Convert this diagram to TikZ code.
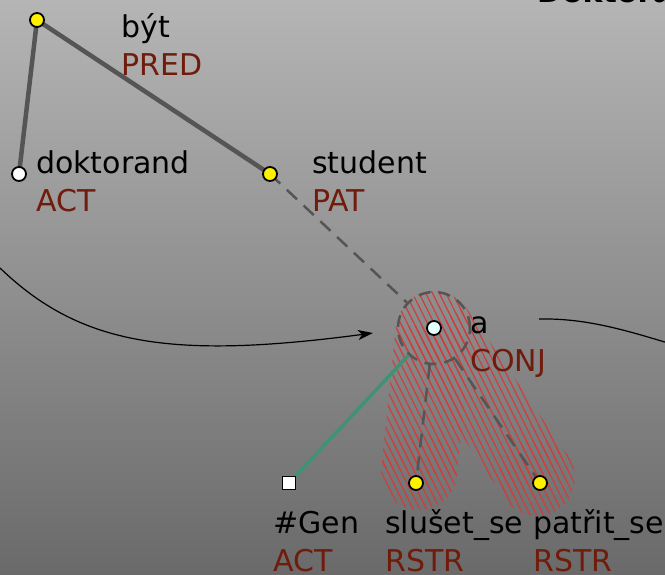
\documentclass[tikz,border=0pt]{standalone}
\usepackage{fontspec}
\setmainfont{DejaVu Sans}
\usetikzlibrary{calc,arrows.meta}

\definecolor{bgtop}{RGB}{181,181,181}
\definecolor{bgbot}{RGB}{106,106,106}
\definecolor{edgegray}{RGB}{85,85,85}
\definecolor{functor}{RGB}{112,28,12}
\definecolor{hatchred}{RGB}{205,62,62}
\definecolor{coapgreen}{RGB}{64,146,116}
\definecolor{coordcyan}{RGB}{230,255,255}

\tikzset{
  tnode/.style={circle, draw=black, line width=1.8pt, minimum size=14pt, inner sep=0pt},
  ynode/.style={tnode, fill=yellow},
  wnode/.style={tnode, fill=white},
  cnode/.style={tnode, fill=coordcyan},
  gnode/.style={rectangle, draw=black, line width=1.8pt, fill=white, minimum size=13pt, inner sep=0pt},
  lemma/.style={anchor=base west, inner sep=0pt, text=black, font=\fontsize{30}{36}\selectfont},
  func/.style={anchor=base west, inner sep=0pt, text=functor, font=\fontsize{30}{36}\selectfont},
  solidedge/.style={draw=edgegray, line width=4.5pt},
  dashedge/.style={draw=edgegray, line width=2.5pt, dash pattern=on 14pt off 9pt},
  groupring/.style={circle, draw=edgegray, line width=2.5pt, dash pattern=on 12pt off 8pt, minimum size=72pt, inner sep=0pt},
  hatch/.style={draw=hatchred, line width=1.2pt},
}

\begin{document}
\begin{tikzpicture}[x=1pt, y=-1pt]
  % page frame and background
  \useasboundingbox (0,0) rectangle (665,574);
  \shade[top color=bgtop, bottom color=bgbot] (0,0) rectangle (665,574);

  % clipped sentence line at the top edge
  \begin{scope}
    \clip (0,0) rectangle (665,574);
    \node[lemma, anchor=base west] (sentence) at (537,2) {\bfseries Doktorand};
  \end{scope}

  % tree nodes
  \coordinate (byt) at (37,20);
  \coordinate (dokt) at (19,174);
  \coordinate (stud) at (270,174);
  \coordinate (a) at (434,328);
  \coordinate (gen) at (289,483);
  \coordinate (slus) at (416,483);
  \coordinate (patr) at (540,483);

  % hatched coordination area
  \coordinate (slusend) at (419,472);
  \coordinate (patrend) at (537,478);
  \def\hatchlines{%
    \foreach \k in {0,...,75} {
      \draw[hatch] ({240+6.7*\k},270) -- ({240+6.7*\k+135},540);
    }}
  \begin{scope}\clip (a) circle[radius=37pt]; \hatchlines \end{scope}
  \begin{scope}\clip (slusend) circle[radius=38pt]; \hatchlines \end{scope}
  \begin{scope}\clip (patrend) circle[radius=38pt]; \hatchlines \end{scope}
  \begin{scope}
    \clip ($(a)!38pt!90:(slusend)$) -- ($(a)!38pt!-90:(slusend)$)
          -- ($(slusend)!38pt!90:(a)$) -- ($(slusend)!38pt!-90:(a)$) -- cycle;
    \hatchlines
  \end{scope}
  \begin{scope}
    \clip ($(a)!38pt!90:(patrend)$) -- ($(a)!38pt!-90:(patrend)$)
          -- ($(patrend)!38pt!90:(a)$) -- ($(patrend)!38pt!-90:(a)$) -- cycle;
    \hatchlines
  \end{scope}

  % coordination ring
  \node[groupring] (agroup) at (a) {};

  % edges
  \draw[solidedge] (byt) -- (dokt);
  \draw[solidedge] (byt) -- (stud);
  \draw[dashedge] (stud) -- (agroup);
  \draw[dashedge] (agroup) -- (slus);
  \draw[dashedge] (agroup) -- (patr);
  \draw[draw=coapgreen, line width=3.5pt] (agroup) -- (gen);

  % arrows between sentences
  \coordinate (leftin) at (0,268);
  \coordinate (arrtip) at (373,333);
  \draw[black, line width=1.2pt, -{Stealth[length=15pt, width=10pt, inset=4pt]}]
    (leftin) .. controls (80,345) and (170,360) .. (arrtip);
  \coordinate (rightout) at (539,319);
  \coordinate (rightend) at (668,343);
  \draw[black, line width=1.2pt] (rightout) .. controls (585,318) and (625,330) .. (rightend);

  % node glyphs
  \node[ynode] (nbyt) at (byt) {};
  \node[wnode] (ndokt) at (dokt) {};
  \node[ynode] (nstud) at (stud) {};
  \node[cnode] (na) at (a) {};
  \node[gnode] (ngen) at (gen) {};
  \node[ynode] (nslus) at (slus) {};
  \node[ynode] (npatr) at (patr) {};

  % labels
  \node[lemma] (lbyt) at (121,37) {být};
  \node[func]  (fbyt) at (121,75) {PRED};
  \node[lemma] (ldokt) at (36,173) {doktorand};
  \node[func]  (fdokt) at (36,211) {ACT};
  \node[lemma] (lstud) at (312,173) {student};
  \node[func]  (fstud) at (312,211) {PAT};
  \node[lemma] (la) at (470,333) {a};
  \node[func]  (fa) at (470,371) {CONJ};
  \node[lemma] (lgen) at (273,533) {\#Gen};
  \node[func]  (fgen) at (273,571) {ACT};
  \node[lemma] (lslus) at (385,533) {slušet\_se};
  \node[func]  (fslus) at (385,571) {RSTR};
  \node[lemma] (lpatr) at (533,533) {patřit\_se};
  \node[func]  (fpatr) at (533,571) {RSTR};
\end{tikzpicture}
\end{document}
